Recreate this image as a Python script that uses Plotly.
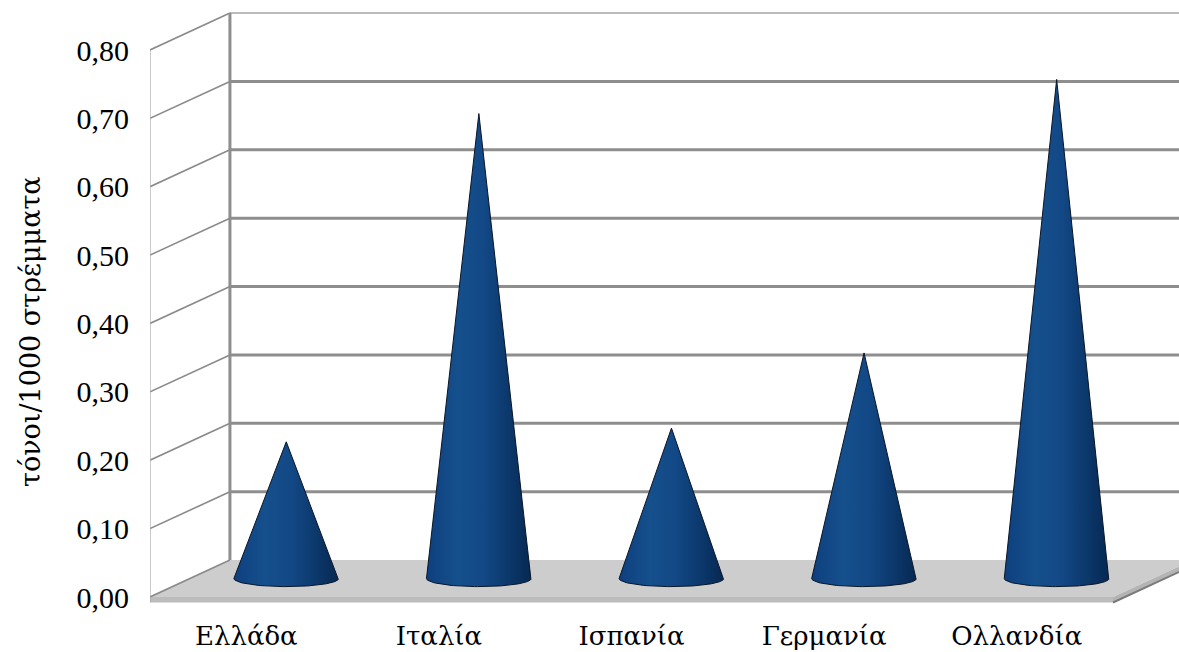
import numpy as np
import plotly.graph_objects as go

# Data
categories = ["Ελλάδα", "Ιταλία", "Ισπανία", "Γερμανία", "Ολλανδία"]
values = [0.20, 0.68, 0.22, 0.33, 0.73]
y_ticks = [0.00, 0.10, 0.20, 0.30, 0.40, 0.50, 0.60, 0.70, 0.80]
y_tick_labels = ["0,00", "0,10", "0,20", "0,30", "0,40", "0,50", "0,60", "0,70", "0,80"]
y_title = "τόνοι/1000 στρέμματα"

# Oblique projection of the depth axis (in x-units and value-units)
DEPTH_X = 0.415
DEPTH_Y = 0.054
SLAB = 0.008          # floor thickness
CONE_R = 0.272        # base half-width of a cone
CONE_E = 0.0118       # vertical semi-axis of the base ellipse
N = len(categories)
Y_MAX = y_ticks[-1]

FONT = "Liberation Serif, DejaVu Serif, serif"
GREEK_FONT = "DejaVu Serif, serif"
GRID = "#8e8e8e"

fig = go.Figure()


def poly(xs, ys, fill, line_color=None, width=0):
    fig.add_trace(go.Scatter(
        x=xs, y=ys, mode="lines", fill="toself", fillcolor=fill,
        line=dict(color=line_color or fill, width=width),
        hoverinfo="skip", showlegend=False))


def seg(xs, ys, color, width):
    fig.add_trace(go.Scatter(
        x=xs, y=ys, mode="lines", line=dict(color=color, width=width),
        hoverinfo="skip", showlegend=False))


# Floor: top face, front face and right face
poly([0, N, N + DEPTH_X, DEPTH_X, 0], [0, 0, DEPTH_Y, DEPTH_Y, 0], "#cdcdcd")
poly([0, N, N, 0, 0], [0, 0, -SLAB, -SLAB, 0], "#bcbcbc")
poly([N, N + DEPTH_X, N + DEPTH_X, N, N],
     [0, DEPTH_Y, DEPTH_Y - SLAB, -SLAB, 0], "#b4b4b4")
seg([N, N + DEPTH_X], [-SLAB, DEPTH_Y - SLAB], "#7a7a7a", 2)

# Back wall gridlines
for v in y_ticks[1:-1]:
    seg([DEPTH_X, N + DEPTH_X + 1], [v + DEPTH_Y, v + DEPTH_Y], GRID, 3)
seg([DEPTH_X, N + DEPTH_X + 1], [Y_MAX + DEPTH_Y, Y_MAX + DEPTH_Y], "#a4a4a4", 1.5)

# Side wall gridlines (diagonals)
for v in y_ticks:
    seg([0, DEPTH_X], [v, v + DEPTH_Y], "#8a8a8a", 1.6)

# Wall edges
seg([DEPTH_X, DEPTH_X], [DEPTH_Y, Y_MAX + DEPTH_Y], GRID, 3)
seg([0, 0], [-SLAB, Y_MAX], "#a8a8a8", 1.2)

# Cones
cone_scale = [[0.0, "#0e3f7e"], [0.3, "#15508c"], [0.55, "#124885"],
              [0.8, "#0b376a"], [1.0, "#072852"]]
t = np.linspace(0, -np.pi, 60)
for i, v in enumerate(values):
    cx = i + 0.5 + DEPTH_X / 2
    cy = DEPTH_Y / 2
    xs = [cx] + list(cx + CONE_R * np.cos(t)) + [cx]
    ys = [v + cy] + list(cy + CONE_E * np.sin(t)) + [v + cy]
    fig.add_trace(go.Scatter(
        x=xs, y=ys, mode="lines", fill="toself",
        fillgradient=dict(type="horizontal", colorscale=cone_scale),
        line=dict(color="#0a1526", width=1),
        name=categories[i], hovertemplate="%{text}<extra></extra>",
        text=[f"{categories[i]}: {v:.2f}".replace(".", ",")] * len(xs),
        showlegend=False))

PX_PER_CAT = 192.6
PX_PER_UNIT = 683.75
PLOT_W = 1179 - 150
PLOT_H = 600

fig.add_annotation(
    text=y_title, textangle=-90, xref="paper", yref="paper",
    x=(30 - 150) / PLOT_W, y=(610 - 332) / PLOT_H,
    xanchor="center", yanchor="middle", showarrow=False,
    font=dict(family=GREEK_FONT, size=27, color="black"))

fig.update_layout(
    width=1179, height=652,
    margin=dict(l=150, r=0, t=10, b=42, autoexpand=False),
    paper_bgcolor="white", plot_bgcolor="white",
    xaxis=dict(range=[0, PLOT_W / PX_PER_CAT], showgrid=False, zeroline=False,
               showline=False, tickvals=[i + 0.5 for i in range(N)],
               ticktext=categories, ticks="", ticklabelstandoff=8,
               automargin=False,
               tickfont=dict(family=GREEK_FONT, size=26, color="black")),
    yaxis=dict(range=[-13 / PX_PER_UNIT, (PLOT_H - 13) / PX_PER_UNIT],
               showgrid=False, zeroline=False, showline=False,
               tickvals=y_ticks, ticktext=y_tick_labels, ticks="",
               ticklabelstandoff=20, automargin=False,
               tickfont=dict(family=FONT, size=30, color="black")),
)

fig.write_html("out.html")
